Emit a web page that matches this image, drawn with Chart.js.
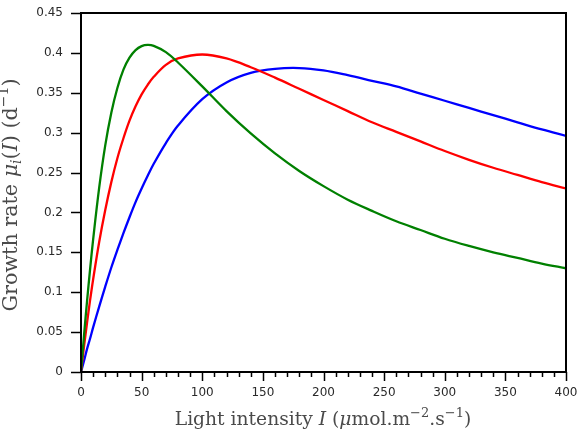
<!DOCTYPE html>
<html>
<head>
  <title>Growth rate vs light intensity</title>
  <script src="https://cdn.jsdelivr.net/npm/chart.js"></script>
  <style>
    body {
      margin: 0;
      background-color: white;
    }
    #wrap {
      width: 579px;
      height: 430px;
    }
  </style>
</head>
<body>
  <div id="wrap">
    <canvas id="growthChart" width="579" height="430"></canvas>
  </div>

  <script>
    const lightValues = [0, 2.5, 5, 7.5, 10, 15, 20, 25, 30, 35, 40, 45, 50, 55, 60, 70, 80, 100, 120, 140, 160, 180, 200, 220, 240, 260, 280, 300, 320, 340, 360, 380, 400];

    const greenRates = [0, 0.046, 0.089, 0.129, 0.166, 0.231, 0.284, 0.325, 0.356, 0.379, 0.394, 0.4035, 0.4085, 0.410, 0.4088, 0.401, 0.388, 0.358, 0.327, 0.299, 0.274, 0.252, 0.233, 0.216, 0.202, 0.189, 0.178, 0.167, 0.158, 0.150, 0.143, 0.136, 0.130];
    const redRates = [0, 0.032, 0.062, 0.090, 0.116, 0.163, 0.203, 0.238, 0.268, 0.293, 0.315, 0.333, 0.348, 0.360, 0.370, 0.385, 0.393, 0.398, 0.393, 0.382, 0.369, 0.355, 0.341, 0.327, 0.313, 0.301, 0.289, 0.277, 0.266, 0.256, 0.247, 0.238, 0.230];
    const blueRates = [0, 0.014, 0.029, 0.042, 0.056, 0.082, 0.107, 0.131, 0.153, 0.174, 0.194, 0.213, 0.230, 0.246, 0.261, 0.287, 0.309, 0.342, 0.363, 0.375, 0.380, 0.381, 0.378, 0.372, 0.365, 0.358, 0.349, 0.340, 0.331, 0.322, 0.313, 0.304, 0.296];

    const xTickLabels = [0, 50, 100, 150, 200, 250, 300, 350, 400];
    const yTickLabels = ['0', '0.05', '0.1', '0.15', '0.2', '0.25', '0.3', '0.35', '0.4', '0.45'];

    function toPoints(values) {
      return lightValues.map((x, i) => ({ x: x, y: values[i] }));
    }

    // draws text made of normal, italic, sub and sup parts, sized to a given width
    function drawRich(ctx, parts, cx, baseline, width) {
      const fam = '"DejaVu Serif", serif';
      const fontFor = (kind, size) => {
        const small = Math.round(size * 0.7);
        if (kind === 'i') return 'italic ' + size + 'px ' + fam;
        if (kind === 'sup' || kind === 'sub') return small + 'px ' + fam;
        if (kind === 'subi') return 'italic ' + small + 'px ' + fam;
        return size + 'px ' + fam;
      };
      const measure = (size) => {
        let w = 0;
        parts.forEach(p => {
          ctx.font = fontFor(p[1], size);
          w += ctx.measureText(p[0]).width;
        });
        return w;
      };
      const size = Math.round(20 * width / measure(20) * 10) / 10;
      let x = cx - measure(size) / 2;
      ctx.textAlign = 'left';
      ctx.textBaseline = 'alphabetic';
      parts.forEach(p => {
        ctx.font = fontFor(p[1], size);
        let y = baseline;
        if (p[1] === 'sup') y = baseline - size * 0.45;
        if (p[1] === 'sub' || p[1] === 'subi') y = baseline + size * 0.2;
        ctx.fillText(p[0], x, y);
        x += ctx.measureText(p[0]).width;
      });
    }

    const framePlugin = {
      id: 'frame',
      afterDraw(chart) {
        const ctx = chart.ctx;
        const area = chart.chartArea;
        const xs = chart.scales.x;
        const ys = chart.scales.y;
        ctx.save();

        // x ticks: major every 50, minor every 10
        ctx.strokeStyle = '#000';
        ctx.lineWidth = 1.5;
        for (let v = 0; v <= 400; v += 10) {
          const px = Math.round(xs.getPixelForValue(v)) + 0.5;
          const len = v % 50 === 0 ? 9 : 5;
          ctx.beginPath();
          ctx.moveTo(px, area.bottom);
          ctx.lineTo(px, area.bottom + len);
          ctx.stroke();
        }
        // y ticks
        yTickLabels.forEach(t => {
          const py = Math.round(ys.getPixelForValue(parseFloat(t))) + 0.5;
          ctx.beginPath();
          ctx.moveTo(area.left - 10, py);
          ctx.lineTo(area.left, py);
          ctx.stroke();
        });

        // box round the plot
        ctx.lineWidth = 2;
        ctx.strokeStyle = '#000';
        ctx.strokeRect(area.left, area.top, area.right - area.left, area.bottom - area.top);

        // tick labels
        ctx.fillStyle = '#2a2a2a';
        ctx.font = '12px "DejaVu Sans", sans-serif';
        ctx.textAlign = 'center';
        ctx.textBaseline = 'middle';
        xTickLabels.forEach(v => {
          ctx.fillText(String(v), xs.getPixelForValue(v), 393);
        });
        ctx.textAlign = 'right';
        yTickLabels.forEach(t => {
          ctx.fillText(t, area.left - 18, ys.getPixelForValue(parseFloat(t)));
        });

        // axis titles
        ctx.fillStyle = '#4a4a4a';
        drawRich(ctx, [
          ['Light intensity ', 'n'], ['I', 'i'], [' (', 'n'], ['\u03bc', 'i'],
          ['mol.m', 'n'], ['\u22122', 'sup'], ['.s', 'n'], ['\u22121', 'sup'], [')', 'n']
        ], 323, 425, 297);

        ctx.translate(17, 195);
        ctx.rotate(-Math.PI / 2);
        drawRich(ctx, [
          ['Growth rate ', 'n'], ['\u03bc', 'i'], ['i', 'subi'], ['(', 'n'], ['I', 'i'],
          [') (d', 'n'], ['\u22121', 'sup'], [')', 'n']
        ], 0, 0, 234);

        ctx.restore();
      }
    };

    const ctx = document.getElementById('growthChart').getContext('2d');

    const chart = new Chart(ctx, {
      type: 'line',
      data: {
        datasets: [
          {
            label: 'green',
            data: toPoints(greenRates),
            borderColor: '#008000',
            borderWidth: 2.3,
            pointRadius: 0,
            tension: 0.35,
            fill: false
          },
          {
            label: 'red',
            data: toPoints(redRates),
            borderColor: '#ff0000',
            borderWidth: 2.3,
            pointRadius: 0,
            tension: 0.35,
            fill: false
          },
          {
            label: 'blue',
            data: toPoints(blueRates),
            borderColor: '#0000ff',
            borderWidth: 2.3,
            pointRadius: 0,
            tension: 0.35,
            fill: false
          }
        ]
      },
      options: {
        responsive: false,
        animation: false,
        layout: {
          padding: { top: 13, right: 13, left: 0, bottom: 0 }
        },
        plugins: {
          legend: { display: false },
          tooltip: { enabled: false }
        },
        scales: {
          x: {
            type: 'linear',
            min: 0,
            max: 400,
            grid: { display: false },
            border: { display: false },
            ticks: { display: false },
            afterFit(scale) { scale.height = 58; }
          },
          y: {
            min: 0,
            max: 0.45,
            grid: { display: false },
            border: { display: false },
            ticks: { display: false },
            afterFit(scale) { scale.width = 81; }
          }
        }
      },
      plugins: [framePlugin]
    });
  </script>
</body>
</html>
